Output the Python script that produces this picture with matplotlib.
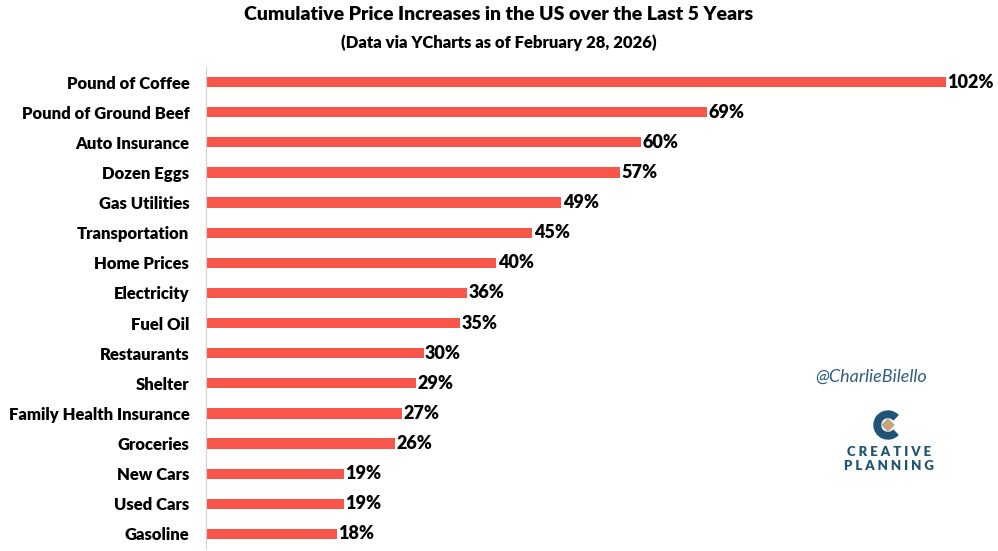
import numpy as np
import matplotlib.pyplot as plt
from matplotlib.patches import Wedge, Polygon

plt.rcParams['font.family'] = ['Lato', 'DejaVu Sans']

# dados
categorias = ['Pound of Coffee', 'Pound of Ground Beef', 'Auto Insurance', 'Dozen Eggs',
              'Gas Utilities', 'Transportation', 'Home Prices', 'Electricity', 'Fuel Oil',
              'Restaurants', 'Shelter', 'Family Health Insurance', 'Groceries', 'New Cars',
              'Used Cars', 'Gasoline']
valores = [102, 69, 60, 57, 49, 45, 40, 36, 35, 30, 29, 27, 26, 19, 19, 18]

cor_barra = '#F8564B'
cor_logo = '#1E5577'

fig = plt.figure(figsize=(9.98, 5.51), dpi=100)
ax = fig.add_axes([206 / 998, 1 - 549 / 551, 760 / 998, 482 / 551])

y = np.arange(len(categorias))
ax.barh(y, valores, height=0.34, color=cor_barra)
for yi, v in zip(y, valores):
    ax.text(v + 0.2, yi, f'{v}%', va='center', ha='left', fontsize=13, fontweight='heavy')

ax.set_yticks(y)
ax.set_yticklabels(categorias, fontsize=12, fontweight='heavy')
ax.set_ylim(len(categorias) - 0.5, -0.5)
ax.set_xlim(0, 102 * 760 / 740)
ax.set_xticks([])
ax.tick_params(axis='y', length=0, pad=12)
for s in ['top', 'right', 'bottom']:
    ax.spines[s].set_visible(False)
ax.spines['left'].set_color('#D0D0D0')

fig.text(0.5, 1 - 14 / 551, 'Cumulative Price Increases in the US over the Last 5 Years',
         ha='center', va='center', fontsize=14, fontweight='heavy')
fig.text(0.5, 1 - 43 / 551, '(Data via YCharts as of February 28, 2026)',
         ha='center', va='center', fontsize=12, fontweight='heavy')

# marca d'agua
fig.text(871 / 998, 1 - 377 / 551, '@CharlieBilello', ha='center', va='center',
         fontsize=13, style='italic', color='#2F5F7F')

# logo
lax = fig.add_axes([850 / 998, 1 - 445 / 551, 76 / 998, 40 / 551])
lax.set_xlim(0, 76)
lax.set_ylim(0, 40)
lax.axis('off')
lax.add_patch(Wedge((38, 20), 14, 45, 315, width=6.5, color=cor_logo))
lax.add_patch(Polygon([[32, 20], [38, 26], [44, 20], [38, 14]], color='#C4A57E'))
fig.text(889 / 998, 1 - 452 / 551, 'C R E A T I V E', ha='center', va='center', fontsize=9.5,
         fontweight='heavy', color=cor_logo)
fig.text(889 / 998, 1 - 466 / 551, 'P L A N N I N G', ha='center', va='center', fontsize=9.5,
         fontweight='heavy', color=cor_logo)

fig.savefig('out.png', dpi=100)
